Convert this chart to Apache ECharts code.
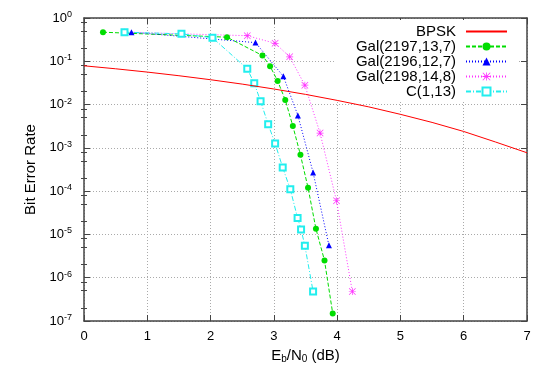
<!DOCTYPE html>
<html>
<head>
<meta charset="utf-8">
<script src="https://cdn.jsdelivr.net/npm/echarts@6/dist/echarts.min.js"></script>
<style>
  html, body { margin: 0; padding: 0; background: #fff; }
  #main { width: 550px; height: 385px; }
</style>
</head>
<body>
<div id="main"></div>
<script>
// BPSK reference curve (Eb/N0 in dB, BER)
var bpskX = [0, 0.5, 1, 1.5, 2, 2.5, 3, 3.5, 4, 4.5, 5, 5.5, 6, 6.5, 7];
var bpskY = [0.0786, 0.0671, 0.0563, 0.0464, 0.0375, 0.0297, 0.0229, 0.0172,
             0.0125, 0.00884, 0.00595, 0.00387, 0.00239, 0.00137, 0.00077];

// Gal(2197,13,7)
var galAX = [0.3, 2.26, 2.82, 2.94, 3.06, 3.18, 3.30, 3.42, 3.54, 3.665, 3.80, 3.93];
var galAY = [0.47, 0.36, 0.136, 0.077, 0.035, 0.0128, 3.2e-3, 6.9e-4, 1.2e-4, 1.35e-5, 2.5e-6, 1.5e-7];

// Gal(2196,12,7)
var galBX = [0.75, 2.71, 3.15, 3.38, 3.62, 3.87];
var galBY = [0.47, 0.27, 0.045, 5.6e-3, 2.7e-4, 5.6e-6];

// Gal(2198,14,8)
var galCX = [0.64, 2.58, 3.02, 3.25, 3.49, 3.73, 3.99, 4.24];
var galCY = [0.47, 0.39, 0.26, 0.127, 0.028, 2.2e-3, 6e-5, 4.8e-7];

// C(1,13)
var cX = [0.64, 1.54, 2.03, 2.58, 2.69, 2.79, 2.91, 3.02, 3.14, 3.26, 3.375, 3.43, 3.49, 3.62];
var cY = [0.47, 0.43, 0.35, 0.067, 0.031, 0.012, 3.5e-3, 1.26e-3, 3.5e-4, 1.1e-4, 2.4e-5, 1.3e-5, 5.5e-6, 4.8e-7];

var names = ['BPSK', 'Gal(2197,13,7)', 'Gal(2196,12,7)', 'Gal(2198,14,8)', 'C(1,13)'];

// axis ticks
var yExps = [0, -1, -2, -3, -4, -5, -6, -7];
var yMinorMult = [2, 5, 8];

var yMajor = yExps.map(function (e) { return Math.pow(10, e); });
var yMinor = [];
yExps.forEach(function (e) {
  if (e === 0) return;
  yMinorMult.forEach(function (m) { yMinor.push(m * Math.pow(10, e)); });
});

function pairs(xs, ys) {
  var out = [];
  for (var i = 0; i < xs.length; i++) out.push([xs[i], ys[i]]);
  return out;
}

var FONT = '"Liberation Sans", Arial, sans-serif';
var lineCol = '#444';

var starPath = 'path://M4.5,0 L5.5,0 L5.5,10 L4.5,10 Z M0,4.5 L10,4.5 L10,5.5 L0,5.5 Z ' +
  'M0.7,0 L10,9.3 L9.3,10 L0,0.7 Z M9.3,0 L10,0.7 L0.7,10 L0,9.3 Z';

// legend entries; BPSK has no marker
var legendData = names.map(function (n) {
  return n === 'BPSK' ? { name: n, itemStyle: { opacity: 0 } } : { name: n };
});

var myChart = echarts.init(document.getElementById('main'));
var option = {
  backgroundColor: '#fff',
  animation: false,
  textStyle: { fontFamily: FONT, color: '#000' },
  grid: { left: 84, right: 23, top: 18, bottom: 64 },
  legend: {
    data: legendData,
    orient: 'vertical',
    align: 'right',
    right: 32,
    top: 20,
    padding: [4, 10, 2, 22],
    backgroundColor: '#fff',
    itemWidth: 41,
    itemHeight: 10,
    itemGap: 0,
    textStyle: { fontFamily: FONT, fontSize: 15, color: '#000', lineHeight: 15, padding: [0, 5, 0, 0] }
  },
  xAxis: [{
    type: 'value', min: 0, max: 7, interval: 1,
    name: 'E{sub|b}/N{sub|0} (dB)',
    nameLocation: 'middle', nameGap: 27,
    nameTextStyle: {
      fontFamily: FONT, fontSize: 15, color: '#000',
      rich: { sub: { fontFamily: FONT, fontSize: 10, verticalAlign: 'bottom', padding: [6, 0, 0, 0] } }
    },
    axisLine: { show: true, onZero: false, lineStyle: { color: lineCol, width: 1.5 } },
    axisTick: { inside: true, length: 6, lineStyle: { color: lineCol } },
    axisLabel: { fontFamily: FONT, fontSize: 13, color: '#000', margin: 9 },
    splitLine: { show: true, lineStyle: { color: '#aaa', type: [1, 2], width: 1 } }
  }, {
    type: 'value', min: 0, max: 7, interval: 1, position: 'top',
    axisLine: { show: true, onZero: false, lineStyle: { color: lineCol, width: 1.5 } },
    axisTick: { inside: true, length: 6, lineStyle: { color: lineCol } },
    axisLabel: { show: false },
    splitLine: { show: false }
  }],
  yAxis: [{
    type: 'log', logBase: 10, min: 1e-7, max: 1, position: 'left',
    name: 'Bit Error Rate',
    nameLocation: 'middle', nameGap: 46,
    nameTextStyle: { fontFamily: FONT, fontSize: 15, color: '#000' },
    axisLine: { show: true, onZero: false, lineStyle: { color: lineCol, width: 1.5 } },
    axisTick: { inside: true, length: 6, customValues: yMajor, lineStyle: { color: lineCol } },
    axisLabel: {
      customValues: yMajor,
      margin: 12,
      fontFamily: FONT, fontSize: 13, color: '#000',
      formatter: function (v) {
        return '{b|10}{e|' + Math.round(Math.log10(v)) + '}';
      },
      rich: {
        b: { fontFamily: FONT, fontSize: 13, color: '#000', lineHeight: 16 },
        e: { fontFamily: FONT, fontSize: 9, color: '#000', verticalAlign: 'top', lineHeight: 10 }
      }
    },
    splitLine: { show: true, lineStyle: { color: '#aaa', type: [1, 2], width: 1 } }
  }, {
    type: 'log', logBase: 10, min: 1e-7, max: 1, position: 'right',
    axisLine: { show: true, onZero: false, lineStyle: { color: lineCol, width: 1.5 } },
    axisTick: { inside: true, length: 6, customValues: yMajor, lineStyle: { color: lineCol } },
    axisLabel: { show: false },
    splitLine: { show: false }
  }, {
    type: 'log', logBase: 10, min: 1e-7, max: 1, position: 'left',
    axisLine: { show: false },
    axisTick: { inside: true, length: 3, customValues: yMinor, lineStyle: { color: lineCol } },
    axisLabel: { show: false },
    splitLine: { show: false }
  }, {
    type: 'log', logBase: 10, min: 1e-7, max: 1, position: 'right',
    axisLine: { show: false },
    axisTick: { inside: true, length: 3, customValues: yMinor, lineStyle: { color: lineCol } },
    axisLabel: { show: false },
    splitLine: { show: false }
  }],
  series: [{
    name: 'BPSK', type: 'line', data: pairs(bpskX, bpskY),
    symbol: 'none', showSymbol: false, z: 6,
    itemStyle: { color: '#ff0000' },
    lineStyle: { color: '#ff0000', width: 1 }
  }, {
    name: 'Gal(2197,13,7)', type: 'line', data: pairs(galAX, galAY),
    symbol: 'circle', symbolSize: 6,
    itemStyle: { color: '#00dd00' },
    lineStyle: { color: '#00dd00', width: 1, type: [4, 2] }
  }, {
    name: 'Gal(2196,12,7)', type: 'line', data: pairs(galBX, galBY),
    symbol: 'triangle', symbolSize: 6,
    itemStyle: { color: '#0000ff' },
    lineStyle: { color: '#0000ff', width: 1, type: [1, 2] }
  }, {
    name: 'Gal(2198,14,8)', type: 'line', data: pairs(galCX, galCY),
    symbol: starPath, symbolSize: 7,
    itemStyle: { color: '#ff33ff' },
    lineStyle: { color: '#ff33ff', width: 1, type: [1, 2] }
  }, {
    name: 'C(1,13)', type: 'line', data: pairs(cX, cY),
    symbol: 'emptyRect', symbolSize: 6,
    itemStyle: { color: '#22eeee', borderWidth: 1 },
    lineStyle: { color: '#22eeee', width: 1, type: [5, 2, 1, 2] }
  }]
};
myChart.setOption(option);
</script>
</body>
</html>
